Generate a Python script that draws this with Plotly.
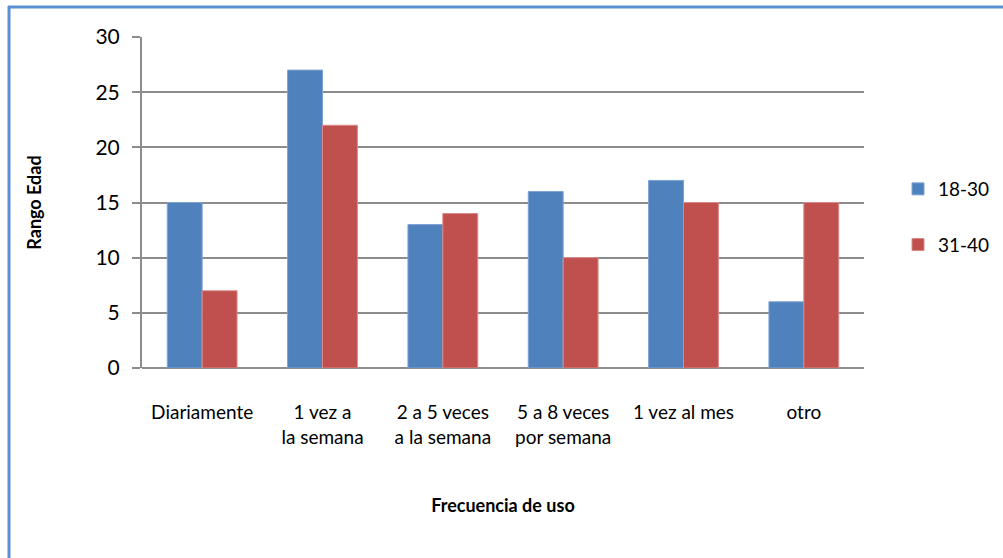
import plotly.graph_objects as go

categorias = ["Diariamente", "1 vez a<br>la semana", "2 a 5 veces<br>a la semana",
              "5 a 8 veces<br>por semana", "1 vez al mes", "otro"]
serie_18_30 = [15, 27, 13, 16, 17, 6]
serie_31_40 = [7, 22, 14, 10, 15, 15]
ticks_y = [0, 5, 10, 15, 20, 25, 30]

W, H = 1003, 558
ML, MR, MT, MB = 142, 139, 37, 190
PW, PH = W - ML - MR, H - MT - MB

FONT = "Lato"

fig = go.Figure()
fig.add_trace(go.Bar(x=categorias, y=serie_18_30, name="18-30",
                     marker=dict(color="#4F81BD", line=dict(color="#7ea3d3", width=1)),
                     legendgroup="a"))
fig.add_trace(go.Bar(x=categorias, y=serie_31_40, name="31-40",
                     marker=dict(color="#C0504D", line=dict(color="#d98a88", width=1)),
                     legendgroup="b"))

def px_x(p):
    return (p - ML) / PW

def px_y(p):
    return (H - MB - p) / PH

# outer chart frame (top and left edges)
fig.add_shape(type="line", xref="paper", yref="paper",
              x0=px_x(8), x1=px_x(1003), y0=px_y(7), y1=px_y(7),
              line=dict(color="#5B8FD5", width=3))
fig.add_shape(type="line", xref="paper", yref="paper",
              x0=px_x(9), x1=px_x(9), y0=px_y(6), y1=px_y(558),
              line=dict(color="#5B8FD5", width=3))

fig.update_layout(
    width=W, height=H,
    margin=dict(l=ML, r=MR, t=MT, b=MB, autoexpand=False),
    paper_bgcolor="white", plot_bgcolor="white",
    barmode="group", bargap=0.42, bargroupgap=0,
    font=dict(family=FONT, color="#000000"),
    showlegend=True,
    legend=dict(x=px_x(898), y=px_y(217), xanchor="left", yanchor="middle",
                font=dict(size=19, family=FONT), traceorder="grouped",
                tracegroupgap=28, itemwidth=30),
    xaxis=dict(showgrid=False, showline=False, ticks="",
               tickfont=dict(size=19, family=FONT), ticklabelstandoff=31,
               title=dict(text="<b>Frecuencia de uso</b>", font=dict(size=18, family=FONT),
                          standoff=52)),
    yaxis=dict(range=[0, 30], tickvals=ticks_y, showgrid=True, gridcolor="#8C8C8C",
               gridwidth=2, showline=True, linecolor="#8C8C8C", linewidth=2,
               ticks="outside", ticklen=8, tickcolor="#8C8C8C", tickwidth=2,
               zeroline=True, zerolinecolor="#8C8C8C", zerolinewidth=2,
               tickfont=dict(size=21, family=FONT), ticklabelstandoff=8,
               title=dict(text="<b>Rango Edad</b>", font=dict(size=18, family=FONT),
                          standoff=49)),
)

fig.write_html("out.html")
